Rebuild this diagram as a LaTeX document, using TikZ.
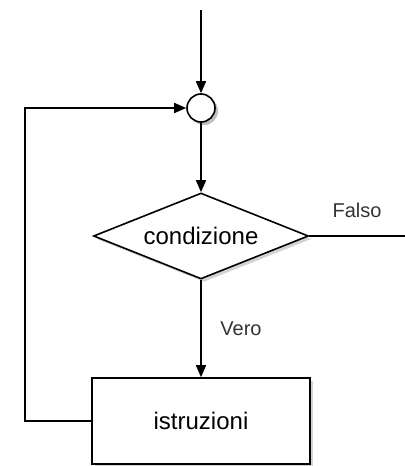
\documentclass[tikz,border=0pt]{standalone}
\usepackage{fontspec}
\setmainfont{Liberation Sans}
\usetikzlibrary{arrows.meta,positioning,shapes.geometric,shadows}
\tikzset{
  junc/.style={circle,draw,thick,fill=white,minimum size=14pt,inner sep=0pt,
    drop shadow={opacity=0.5,shadow xshift=1.5pt,shadow yshift=-1.5pt}},
  test/.style={diamond,draw,thick,fill=white,minimum width=107.5pt,minimum height=43pt,
    inner sep=0pt,aspect=2.5,font=\fontsize{12}{14}\selectfont,
    drop shadow={opacity=0.35,shadow xshift=1.5pt,shadow yshift=-1.5pt}},
  block/.style={rectangle,draw,thick,fill=white,minimum width=109pt,minimum height=43pt,
    font=\fontsize{12}{14}\selectfont,
    drop shadow={opacity=0.35,shadow xshift=1.5pt,shadow yshift=-1.5pt}},
  flow/.style={-{Triangle[length=6pt,width=5pt]},thick},
  lbl/.style={font=\fontsize{10}{12}\selectfont,text=black!80}
}

\begin{document}
\begin{tikzpicture}[x=0.5pt,y=-0.5pt]
\useasboundingbox (0,0) rectangle (405,466);
% nodes
\coordinate (start) at (201,10);
\node[junc] (junc) at (201,108) {};
\node[test] (cond) at (201,236) {condizione};
\node[block] (istr) at (201,421) {istruzioni};
\coordinate (exit) at (405,236);
\coordinate (back) at (25,421);
% connectors
\draw[flow] (start) -- (junc);
\draw[flow] (junc) -- (cond);
\draw[flow] (cond) -- node[lbl,right=6pt]{Vero} (istr);
\draw[thick] (cond.east) -- (exit);
\node[lbl] at (357,210) {Falso};
\draw[flow] (istr.west) -- (back) |- (junc);
\end{tikzpicture}
\end{document}
